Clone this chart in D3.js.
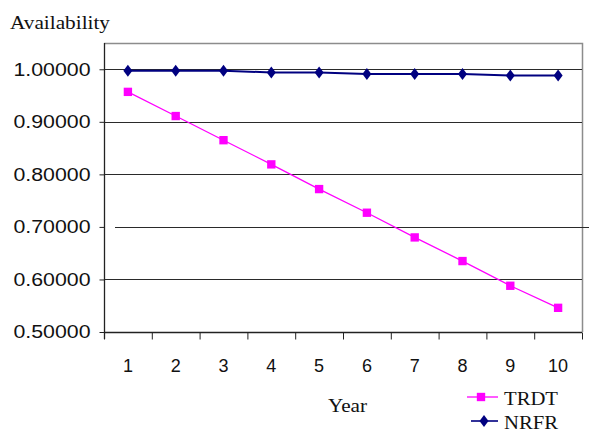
<!DOCTYPE html>
<html><head><meta charset="utf-8">
<script src="https://cdn.jsdelivr.net/npm/d3@7"></script>
<style>
html,body{margin:0;padding:0;background:#fff;}
svg{display:block;}
</style></head>
<body>
<svg id="chart" width="589" height="432"></svg>
<script>
const years = [1,2,3,4,5,6,7,8,9,10];
const trdt = [0.957,0.911,0.865,0.819,0.772,0.727,0.680,0.635,0.588,0.546];
const nrfr = [0.997,0.997,0.997,0.994,0.994,0.991,0.991,0.991,0.988,0.988];
const yTicks = [0.5,0.6,0.7,0.8,0.9,1.0];
const seriesNames = ["TRDT","NRFR"];
const yTitle = "Availability";
const xTitle = "Year";

const svg = d3.select("#chart");
const L=104, R=582, T=43, B=332;
const x = d3.scaleLinear().domain([0.5,10.5]).range([L,R]);
const y = d3.scaleLinear().domain([0.5,1.05]).range([B,T]);

// plot border (gray top/right)
svg.append("path").attr("d",`M${L},${T+0.5}H${R+0.5}V${B}`)
  .attr("fill","none").attr("stroke","#8c8c8c").attr("stroke-width",1.5);

// gridlines
svg.append("g").selectAll("line").data(yTicks.filter(d=>d>0.5)).join("line")
  .attr("x1",d=>Math.abs(d-0.7)<1e-9?115:L).attr("x2",d=>Math.abs(d-0.7)<1e-9?589:R)
  .attr("y1",d=>Math.round(y(d))+0.5).attr("y2",d=>Math.round(y(d))+0.5)
  .attr("stroke","#2a2a2a").attr("stroke-width",1.2);

// y axis
const ya = svg.append("g").attr("transform",`translate(${L+0.5},0)`)
  .call(d3.axisLeft(y).tickValues(yTicks).tickFormat(d3.format(".5f")).tickSize(5).tickPadding(9));
ya.select(".domain").attr("d",`M0,${T}V${B+7}`).attr("stroke","#222").attr("stroke-width",1.3);
ya.selectAll(".tick line").attr("stroke","#222");
ya.selectAll(".tick text").attr("font-family","'Liberation Sans',Arial,sans-serif")
  .attr("font-size",18).attr("fill","#111").attr("textLength",77).attr("lengthAdjust","spacingAndGlyphs");

// x axis
const xa = svg.append("g").attr("transform",`translate(0,${B+0.5})`)
  .call(d3.axisBottom(x).tickValues(d3.range(0.5,10.6,1)).tickFormat("").tickSize(7));
xa.select(".domain").attr("d",`M${L},0H${R}`).attr("stroke","#222").attr("stroke-width",1.3);
xa.selectAll(".tick line").attr("stroke","#222");
svg.append("g").selectAll("text").data(years).join("text")
  .attr("x",d=>x(d)).attr("y",371.5).attr("text-anchor","middle")
  .attr("font-family","'Liberation Sans',Arial,sans-serif").attr("font-size",18).attr("fill","#111")
  .text(d=>d);

// lines
const line = d3.line().x((d,i)=>x(years[i])).y(d=>y(d));
svg.append("path").datum(trdt).attr("d",line).attr("fill","none").attr("stroke","#ff00ff").attr("stroke-width",1.3);
svg.append("path").datum(nrfr).attr("d",line).attr("fill","none").attr("stroke","#000080").attr("stroke-width",2);

const sq = d3.symbol().type(d3.symbolSquare).size(70)();
const diamond = "M0,-6L4.5,0L0,6L-4.5,0Z";
svg.append("g").selectAll("path").data(trdt).join("path")
  .attr("transform",(d,i)=>`translate(${x(years[i])},${y(d)})`).attr("d",sq).attr("fill","#ff00ff");
svg.append("g").selectAll("path").data(nrfr).join("path")
  .attr("transform",(d,i)=>`translate(${x(years[i])},${y(d)})`).attr("d",diamond).attr("fill","#000080");

// titles
svg.append("text").attr("x",10).attr("y",29).attr("font-family","'Liberation Serif','Times New Roman',serif")
  .attr("font-size",19).attr("fill","#111").attr("textLength",100).attr("lengthAdjust","spacingAndGlyphs").text(yTitle);
svg.append("text").attr("x",328).attr("y",412).attr("font-family","'Liberation Serif','Times New Roman',serif")
  .attr("font-size",19).attr("fill","#111").attr("textLength",39).attr("lengthAdjust","spacingAndGlyphs").text(xTitle);

// legend
const leg = [
  {name:seriesNames[0], color:"#ff00ff", x1:467, x2:498, y:397, mark:sq, mx:481, w:1.3},
  {name:seriesNames[1], color:"#000080", x1:471, x2:498, y:421, mark:diamond, mx:484, w:2}
];
const lg = svg.append("g").selectAll("g").data(leg).join("g");
lg.append("line").attr("x1",d=>d.x1).attr("x2",d=>d.x2).attr("y1",d=>d.y).attr("y2",d=>d.y)
  .attr("stroke",d=>d.color).attr("stroke-width",d=>d.w).attr("opacity",d=>d.name==="NRFR"?0.8:1);
lg.append("path").attr("transform",d=>`translate(${d.mx},${d.y})`).attr("d",d=>d.mark).attr("fill",d=>d.color);
lg.append("text").attr("x",504).attr("y",d=>d.y+7.5)
  .attr("font-family","'Liberation Serif','Times New Roman',serif").attr("font-size",18).attr("fill","#111")
  .attr("textLength",54).attr("lengthAdjust","spacingAndGlyphs").text(d=>d.name);
</script>
</body></html>
